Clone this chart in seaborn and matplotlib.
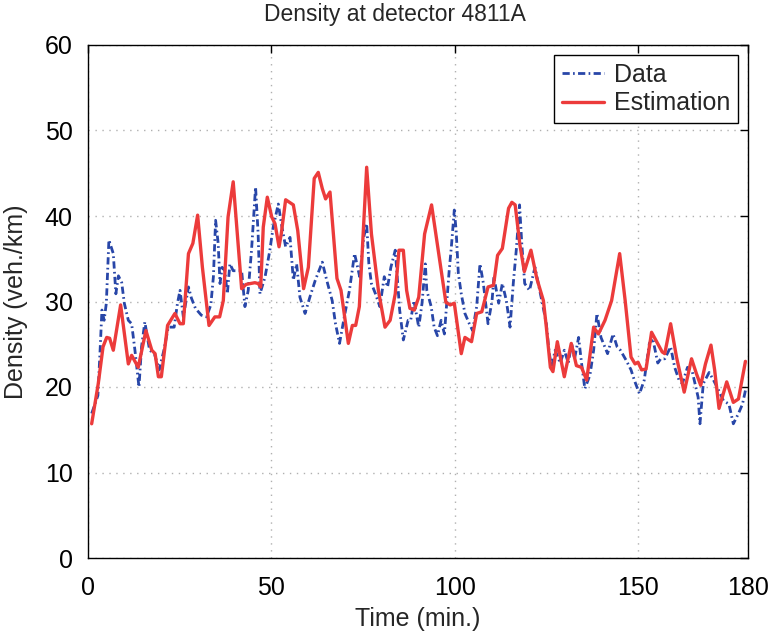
import matplotlib
matplotlib.use("Agg")
import matplotlib.pyplot as plt
import seaborn as sns
import pandas as pd

# ---- data ----
data_t = [1.0, 2.7, 3.3, 3.8, 4.4, 5.0, 5.7, 6.9, 7.6, 8.3, 9.2, 9.9, 11.0, 11.9, 12.8, 13.9, 14.6,
          15.5, 16.8, 18.1, 19.4, 20.7, 21.9, 23.5, 24.4, 25.1, 26.0, 27.4, 28.2, 29.3, 30.9, 32.3,
          33.5, 34.2, 34.8, 35.5, 36.0, 36.6, 37.3, 38.0, 38.7, 39.6, 40.5, 41.9, 42.8, 43.7, 44.6,
          45.7, 46.4, 46.9, 48.3, 49.6, 50.5, 51.9, 52.9, 53.9, 55.1, 56.0, 56.9, 57.8, 59.2, 60.5,
          62.0, 63.9, 65.1, 66.6, 67.5, 68.6, 69.9, 71.3, 72.7, 74.1, 75.2, 76.0, 76.6, 77.3, 78.4,
          79.6, 80.8, 81.7, 82.6, 83.8, 85.0, 86.0, 87.3, 88.0, 88.9, 90.2, 91.1, 92.0, 92.4, 93.6,
          94.4, 95.3, 96.3, 97.2, 97.7, 98.5, 99.1, 99.9, 100.4, 101.0, 101.8, 102.8, 104.0, 104.9,
          106.0, 106.9, 107.8, 109.1, 110.2, 110.7, 112.0, 113.0, 114.1, 115.1, 116.0, 116.8, 117.7,
          118.3, 119.1, 120.4, 121.9, 123.2, 124.1, 125.0, 125.7, 126.4, 127.4, 128.8, 129.9, 131.0,
          131.9, 132.7, 133.8, 134.6, 135.5, 136.9, 137.9, 138.8, 139.9, 141.7, 143.2, 144.3, 145.2,
          146.8, 148.1, 149.0, 150.4, 151.7, 153.1, 154.0, 155.4, 156.2, 157.3, 158.9, 160.0, 161.2,
          162.1, 163.5, 164.8, 166.4, 166.9, 167.8, 169.4, 170.6, 172.0, 173.3, 174.8, 176.0, 177.4,
          178.5, 179.3]
data_v = [16.9, 19.0, 24.3, 29.0, 27.8, 29.8, 37.2, 35.6, 30.9, 33.0, 32.2, 29.8, 27.8, 27.4, 24.3,
          20.0, 24.7, 27.6, 24.3, 23.9, 22.0, 24.3, 27.0, 27.0, 29.8, 31.3, 28.2, 31.7, 30.4, 29.2,
          28.4, 28.2, 29.6, 32.9, 39.5, 36.8, 32.1, 34.0, 33.6, 30.9, 34.4, 33.6, 33.6, 33.6, 29.4,
          31.3, 36.0, 43.4, 37.9, 30.9, 32.9, 36.0, 38.7, 41.4, 38.7, 36.4, 37.5, 32.5, 34.4, 30.5,
          28.6, 30.5, 32.5, 34.6, 32.5, 30.1, 27.4, 25.1, 28.2, 31.3, 35.6, 32.9, 37.5, 39.1, 34.4,
          32.1, 30.9, 29.4, 32.9, 31.7, 34.0, 36.0, 29.0, 25.5, 27.8, 27.8, 30.1, 27.0, 29.8, 34.4,
          31.3, 29.4, 27.0, 26.0, 27.8, 26.2, 29.0, 33.6, 36.4, 40.7, 38.3, 33.3, 30.9, 28.6, 27.4,
          26.6, 29.4, 34.4, 32.2, 27.4, 30.1, 32.9, 29.8, 32.1, 30.1, 27.0, 32.2, 36.0, 41.3, 36.8,
          32.1, 31.3, 34.0, 31.3, 29.4, 27.4, 24.3, 22.3, 24.3, 22.8, 24.3, 22.8, 25.1, 23.3, 25.8,
          22.8, 19.8, 21.4, 24.3, 28.6, 25.8, 23.9, 26.2, 24.7, 24.3, 23.1, 22.0, 20.8, 19.2, 20.8,
          25.1, 25.7, 22.8, 23.3, 23.3, 24.7, 22.3, 20.8, 20.4, 22.3, 21.8, 18.8, 15.7, 20.4, 21.7,
          20.8, 19.6, 18.4, 18.0, 15.7, 16.9, 18.0, 19.6]

est_t = [1.0, 2.8, 4.1, 5.1, 5.9, 6.9, 8.9, 11.0, 11.9, 13.7, 15.8, 17.4, 18.3, 19.2, 20.0, 21.7,
         23.7, 25.1, 26.0, 27.4, 28.6, 29.9, 31.2, 33.0, 34.6, 35.9, 36.9, 38.2, 39.6, 41.9, 43.1,
         45.5, 46.4, 47.1, 47.8, 48.9, 50.1, 51.0, 52.1, 52.7, 53.9, 56.0, 57.2, 58.8, 60.1, 61.7,
         62.8, 63.9, 64.8, 66.0, 67.9, 69.0, 71.0, 72.1, 73.0, 74.0, 76.0, 77.3, 79.2, 81.0, 82.4,
         83.8, 84.8, 86.0, 86.9, 87.8, 89.0, 90.2, 91.8, 93.7, 95.5, 97.6, 98.8, 99.9, 101.8, 102.8,
         104.6, 106.0, 107.4, 109.1, 110.6, 111.7, 113.0, 114.7, 115.6, 116.5, 117.8, 119.0, 120.8,
         122.4, 124.2, 125.0, 126.1, 126.8, 128.0, 129.9, 131.8, 133.2, 134.6, 136.0, 137.9, 139.2,
         141.0, 142.8, 145.0, 146.5, 148.1, 149.2, 150.0, 151.0, 152.2, 153.7, 155.1, 156.6, 157.3,
         158.9, 160.5, 162.6, 164.6, 165.9, 167.1, 168.4, 169.9, 170.9, 172.1, 174.2, 176.0, 177.4,
         179.3]
est_v = [15.7, 20.4, 24.7, 25.8, 25.7, 24.3, 29.6, 22.7, 23.7, 22.3, 26.6, 24.3, 23.9, 21.2, 21.2,
         27.2, 28.6, 27.4, 27.4, 35.6, 36.8, 40.1, 34.0, 27.2, 28.2, 28.2, 30.1, 39.9, 44.0, 31.5,
         32.0, 32.2, 32.1, 31.7, 38.7, 42.2, 39.9, 39.1, 36.4, 37.9, 41.9, 41.3, 38.3, 31.5, 34.0,
         44.4, 45.1, 43.2, 42.0, 42.8, 32.7, 31.3, 25.1, 27.2, 27.2, 29.4, 45.7, 37.9, 31.3, 27.0,
         27.8, 30.9, 36.0, 36.0, 31.3, 29.2, 29.0, 30.5, 37.9, 41.3, 36.0, 29.9, 29.6, 29.8, 23.9,
         25.8, 25.3, 28.6, 28.8, 31.7, 31.9, 35.4, 36.2, 40.9, 41.6, 41.3, 36.6, 33.5, 36.0, 32.7,
         30.1, 27.0, 22.3, 21.8, 25.3, 21.2, 25.1, 22.5, 22.3, 20.8, 27.0, 26.2, 27.8, 30.1, 35.6,
         30.1, 23.5, 22.7, 22.9, 22.0, 22.1, 26.4, 25.3, 24.1, 23.9, 27.4, 23.5, 19.4, 23.3, 21.6,
         20.2, 22.7, 24.9, 22.0, 17.5, 20.6, 18.2, 18.6, 23.0]

title = "Density at detector 4811A"
xlabel = "Time (min.)"
ylabel = "Density (veh./km)"
xticks = [0, 50, 100, 150, 180]
yticks = [0, 10, 20, 30, 40, 50, 60]

# ---- plotting ----
sns.set_theme(style="white")
plt.rcParams["font.family"] = ["Liberation Sans", "DejaVu Sans"]

fig = plt.figure(figsize=(7.73, 6.34), dpi=100)
ax = fig.add_axes([88 / 773, 1 - 558 / 634, (748 - 88) / 773, (558 - 45) / 634])

df_data = pd.DataFrame({"t": data_t, "v": data_v})
df_est = pd.DataFrame({"t": est_t, "v": est_v})

sns.lineplot(data=df_data, x="t", y="v", ax=ax, color="#2846a8", linewidth=2.0,
             linestyle=(0, (2.6, 1.2, 0.6, 1.2)), label="Data", estimator=None, sort=True)
sns.lineplot(data=df_est, x="t", y="v", ax=ax, color="#ec3b3b", linewidth=2.4,
             label="Estimation", estimator=None, sort=True)

ax.set_xlim(0, 180)
ax.set_ylim(0, 60)
ax.set_xticks(xticks)
ax.set_yticks(yticks)
ax.tick_params(direction="in", length=6, width=1, top=True, right=True,
               labelsize=18, colors="black")
ax.tick_params(axis="x", pad=13)
ax.tick_params(axis="y", pad=11)
ax.grid(True, linestyle=(0, (1, 4)), color="#b0b0b0", linewidth=1)
for s in ax.spines.values():
    s.set_color("black")
    s.set_linewidth(1)
    s.set_visible(True)

fig.text(395 / 773, 1 - 14 / 634, title, ha="center", va="center", fontsize=16.5)
ax.set_xlabel(xlabel, fontsize=18, labelpad=5)
ax.set_ylabel(ylabel, fontsize=18, labelpad=12)

leg = ax.legend(loc="upper right", fontsize=18, frameon=True, fancybox=False,
                edgecolor="black", framealpha=1, handlelength=1.7, borderpad=0.3,
                labelspacing=0.2, handletextpad=0.4, borderaxespad=0.4)
leg.get_frame().set_linewidth(1)

fig.savefig("out.png", dpi=100)
